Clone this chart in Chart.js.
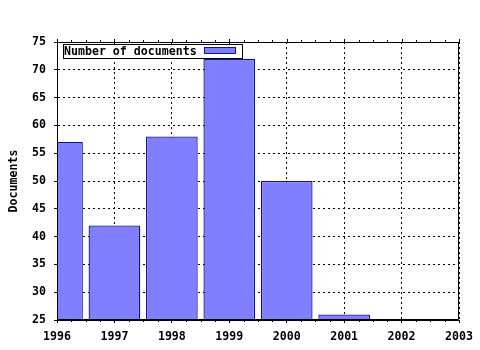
<!DOCTYPE html>
<html>
<head>
<meta charset="utf-8">
<script src="https://cdn.jsdelivr.net/npm/chart.js@4"></script>
<style>
  html, body { margin: 0; padding: 0; background: #fff; }
  #wrap { width: 480px; height: 350px; }
</style>
</head>
<body>
<div id="wrap"><canvas id="docChart" width="480" height="350"></canvas></div>
<script>
// data
const years = [1996, 1997, 1998, 1999, 2000, 2001];
const documents = [57, 42, 58, 72, 50, 26];
const xTicks = [1996, 1997, 1998, 1999, 2000, 2001, 2002, 2003];
const yTicks = [25, 30, 35, 40, 45, 50, 55, 60, 65, 70, 75];

const FONT = { family: '"DejaVu Sans Mono", monospace', size: 11.6, weight: 'bold' };

// frame, minor ticks and boxed legend
const decor = {
    id: 'decor',
    afterDatasetsDraw(chart) {
        const { ctx, chartArea: a, scales: { x } } = chart;
        ctx.save();
        ctx.strokeStyle = '#000';
        ctx.lineWidth = 1;
        ctx.beginPath();
        ctx.rect(Math.round(a.left) + 0.5, Math.round(a.top) + 0.5,
            Math.round(a.right - a.left) - 1, Math.round(a.bottom - a.top) - 1);
        ctx.stroke();

        // ticks on top and bottom axis, quarter steps
        ctx.beginPath();
        const first = xTicks[0], last = xTicks[xTicks.length - 1];
        for (let v = first; v <= last + 1e-9; v += 0.25) {
            const px = Math.round(x.getPixelForValue(v)) + 0.5;
            const major = Math.abs(v - Math.round(v)) < 1e-9;
            const len = major ? 3 : 2;
            ctx.moveTo(px, Math.round(a.top));
            ctx.lineTo(px, Math.round(a.top) - len);
            if (!major) {
                ctx.moveTo(px, Math.round(a.bottom));
                ctx.lineTo(px, Math.round(a.bottom) + len);
            }
        }
        ctx.stroke();

        // legend
        const ds = chart.data.datasets[0];
        const bx = 63, by = 44, bw = 179, bh = 14;
        ctx.fillStyle = '#fff';
        ctx.fillRect(bx, by, bw, bh);
        ctx.strokeRect(bx + 0.5, by + 0.5, bw, bh);
        ctx.font = 'bold 11.6px "DejaVu Sans Mono", monospace';
        ctx.fillStyle = '#000';
        ctx.textBaseline = 'middle';
        ctx.textAlign = 'left';
        ctx.fillText(ds.label, bx + 1, by + bh / 2 + 1);
        ctx.fillStyle = ds.backgroundColor;
        ctx.fillRect(204, 47, 32, 7);
        ctx.strokeStyle = ds.borderColor;
        ctx.strokeRect(204.5, 47.5, 31, 6);
        ctx.restore();
    }
};

new Chart(document.getElementById('docChart'), {
    type: 'bar',
    data: {
        datasets: [{
            label: 'Number of documents',
            data: years.map((yr, i) => ({ x: yr, y: documents[i] })),
            backgroundColor: '#8080ff',
            borderColor: '#10109a',
            borderWidth: 1.3,
            inflateAmount: 0,
            barPercentage: 0.9,
            categoryPercentage: 1,
            clip: 0
        }]
    },
    options: {
        responsive: false,
        devicePixelRatio: 1,
        animation: false,
        layout: { padding: { top: 42, right: 21, left: 0, bottom: 0 } },
        plugins: {
            legend: { display: false },
            tooltip: { enabled: false }
        },
        scales: {
            x: {
                type: 'linear',
                min: xTicks[0],
                max: xTicks[xTicks.length - 1],
                offset: false,
                afterBuildTicks: (s) => { s.ticks = xTicks.map(v => ({ value: v })); },
                afterFit: (s) => { s.height = 30; },
                ticks: { color: '#000', font: FONT, padding: 7, maxRotation: 0, callback: (v) => String(v) },
                grid: { offset: false, color: '#000', tickLength: 3, tickColor: '#000' },
                border: { display: true, color: '#000', dash: [2, 3] }
            },
            y: {
                min: yTicks[0],
                max: yTicks[yTicks.length - 1],
                afterBuildTicks: (s) => { s.ticks = yTicks.map(v => ({ value: v })); },
                afterFit: (s) => { s.width = 57; },
                ticks: { color: '#000', font: FONT, padding: 8 },
                grid: { color: '#000', tickLength: 3, tickColor: '#000' },
                border: { display: true, color: '#000', dash: [2, 3] },
                title: { display: true, text: 'Documents', color: '#000', font: FONT, padding: { top: 7, bottom: 0 } }
            }
        }
    },
    plugins: [decor]
});
</script>
</body>
</html>
